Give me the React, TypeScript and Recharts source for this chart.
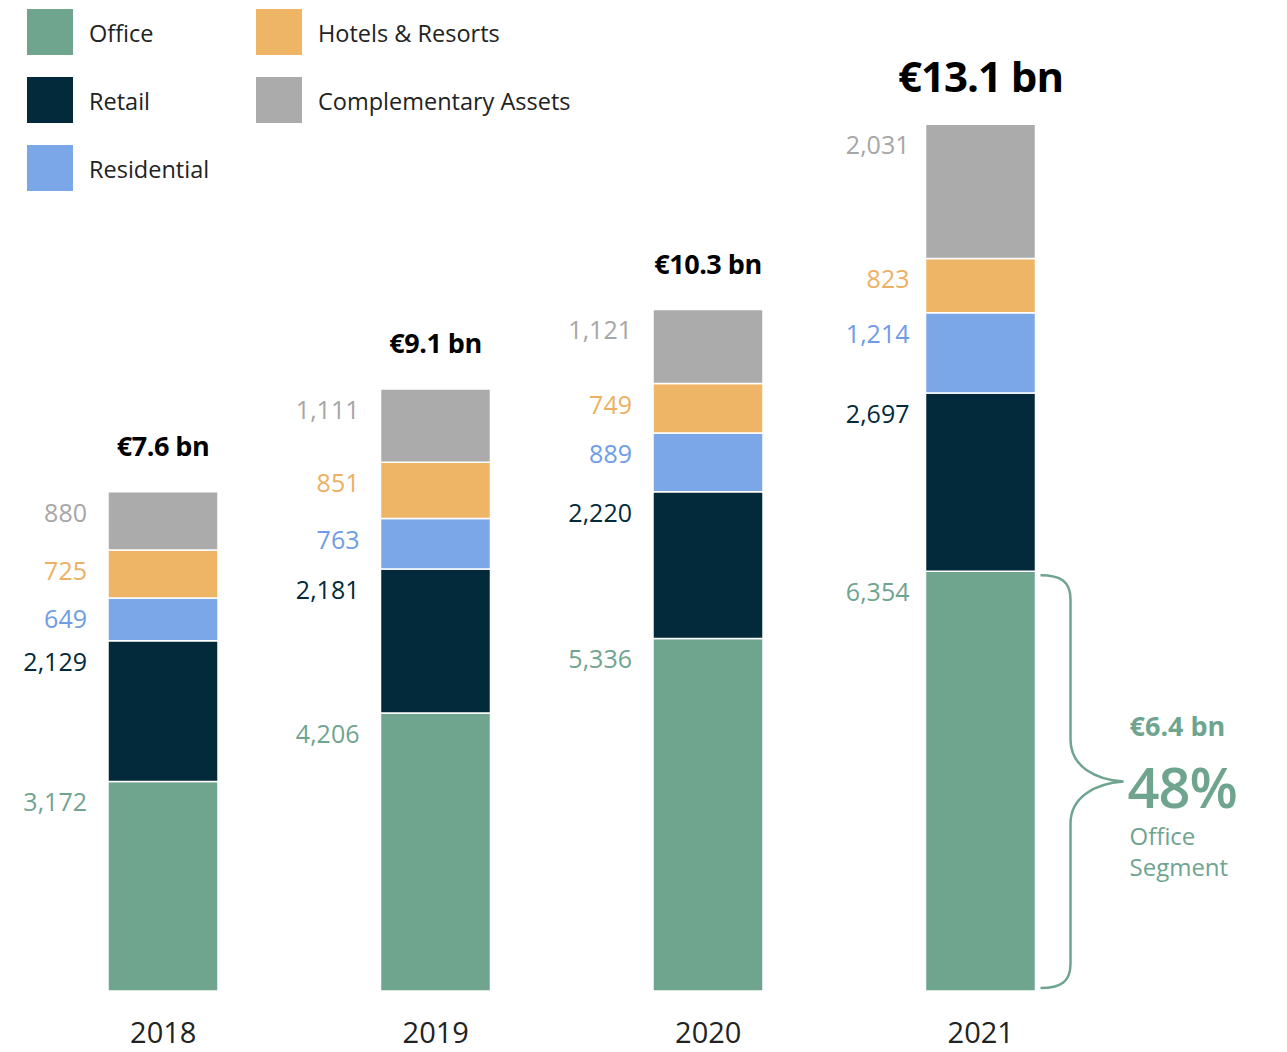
import React from 'react';
import { BarChart, Bar, XAxis, YAxis, LabelList } from 'recharts';

const years = ['2018', '2019', '2020', '2021'];
const office = [3172, 4206, 5336, 6354];
const retail = [2129, 2181, 2220, 2697];
const residential = [649, 763, 889, 1214];
const hotels = [725, 851, 749, 823];
const complementary = [880, 1111, 1121, 2031];
const totals = ['€7.6 bn', '€9.1 bn', '€10.3 bn', '€13.1 bn'];
const officeNote = { amount: '€6.4 bn', share: '48%', line1: 'Office', line2: 'Segment' };

const FONT = '"Open Sans", "Noto Sans", sans-serif';

const series = [
  { key: 'office', name: 'Office', color: '#6FA48F', label: '#6FA48F' },
  { key: 'retail', name: 'Retail', color: '#022A3A', label: '#022A3A' },
  { key: 'residential', name: 'Residential', color: '#7BA7E8', label: '#6E9CE6' },
  { key: 'hotels', name: 'Hotels & Resorts', color: '#EFB567', label: '#EDB062' },
  { key: 'complementary', name: 'Complementary Assets', color: '#ABABAB', label: '#A6A6A6' },
];

const data = years.map((y, i) => ({
  year: y,
  office: office[i],
  retail: retail[i],
  residential: residential[i],
  hotels: hotels[i],
  complementary: complementary[i],
  total: totals[i],
}));

const fmt = (v: number) => v.toLocaleString('en-US');

const makeValueLabel = (color: string) => (props: any) => {
  const { x, y, value, index } = props;
  const gap = index === years.length - 1 ? 16 : 21;
  return (
    <text x={x - gap} y={y + 20} textAnchor="end" dominantBaseline="central"
      fontFamily={FONT} fontSize={25} fill={color}>
      {fmt(value)}
    </text>
  );
};

const TotalLabel = (props: any) => {
  const { x, y, width, index } = props;
  const big = index === years.length - 1;
  return (
    <text x={x + width / 2} y={y - (big ? 49 : 46)} textAnchor="middle" dominantBaseline="central"
      fontFamily={FONT} fontWeight={700} fontSize={big ? 42 : 27} letterSpacing={big ? -1 : -0.5} fill="#000">
      {totals[index]}
    </text>
  );
};

const BraceLabel = (props: any) => {
  const { x, y, width, height, index } = props;
  if (index !== years.length - 1) return null;
  const x0 = x + width + 5;
  const top = y + 4;
  const bot = y + height - 3;
  const mid = (top + bot) / 2;
  const xs = x0 + 30;
  const tip = x0 + 83;
  const d = `M ${x0} ${top} C ${x0 + 20} ${top} ${xs} ${top + 6} ${xs} ${top + 24}
    L ${xs} ${mid - 42} C ${xs} ${mid - 15} ${xs + 25} ${mid - 2} ${tip} ${mid}
    C ${xs + 25} ${mid + 2} ${xs} ${mid + 15} ${xs} ${mid + 42}
    L ${xs} ${bot - 24} C ${xs} ${bot - 6} ${x0 + 20} ${bot} ${x0} ${bot}`;
  const tx = x0 + 89;
  const green = '#6FA48F';
  return (
    <g>
      <path d={d} fill="none" stroke={green} strokeWidth={2.5} />
      <text x={tx} y={mid - 46} fontFamily={FONT} fontWeight={700} fontSize={27} fill={green}>{officeNote.amount}</text>
      <text x={tx - 2} y={mid + 26} fontFamily={FONT} fontWeight={600} fontSize={56} letterSpacing={-1} fill={green}>{officeNote.share}</text>
      <text x={tx} y={mid + 63} fontFamily={FONT} fontWeight={500} fontSize={24} fill={green}>{officeNote.line1}</text>
      <text x={tx} y={mid + 94} fontFamily={FONT} fontWeight={500} fontSize={24} fill={green}>{officeNote.line2}</text>
    </g>
  );
};

const LegendBlock = () => {
  const col1 = [series[0], series[1], series[2]];
  const col2 = [series[3], series[4]];
  const item = (s: any, left: number, top: number) => (
    <div key={s.key} style={{ position: 'absolute', left, top, display: 'flex', alignItems: 'center' }}>
      <div style={{ width: 46, height: 46, background: s.color }} />
      <span style={{ marginLeft: 16, fontFamily: FONT, fontSize: 23.5, color: '#222', whiteSpace: 'nowrap', position: 'relative', top: 1 }}>{s.name}</span>
    </div>
  );
  return (
    <div style={{ position: 'absolute', left: 0, top: 0, width: 700, height: 200 }}>
      {col1.map((s, i) => item(s, 27, 9 + i * 68))}
      {col2.map((s, i) => item(s, 256, 9 + i * 68))}
    </div>
  );
};

const YearTick = (props: any) => {
  const { x, y, payload } = props;
  return (
    <text x={x} y={y + 52} textAnchor="middle" fontFamily={FONT} fontSize={29} fill="#222">
      {payload.value}
    </text>
  );
};

export default function App() {
  return (
    <div style={{ position: 'absolute', left: 0, top: 0, width: 1287, height: 1052, background: '#fff' }}>
      <BarChart width={1287} height={1052} data={data}
        margin={{ top: 66, right: 170, bottom: 21, left: 27 }} barSize={110}>
        <XAxis dataKey="year" axisLine={false} tickLine={false} tickSize={0} tickMargin={0} height={40}
          tick={<YearTick />} interval={0} />
        <YAxis hide domain={[0, 14000]} />
        {series.map((s, si) => (
          <Bar key={s.key} dataKey={s.key} name={s.name} stackId="a" fill={s.color}
            stroke="#fff" strokeWidth={1.5} isAnimationActive={false}>
            <LabelList dataKey={s.key} content={makeValueLabel(s.label)} />
            {si === 0 ? <LabelList dataKey={s.key} content={<BraceLabel />} /> : null}
            {si === series.length - 1 ? <LabelList dataKey="total" content={<TotalLabel />} /> : null}
          </Bar>
        ))}
      </BarChart>
      <LegendBlock />
    </div>
  );
}
